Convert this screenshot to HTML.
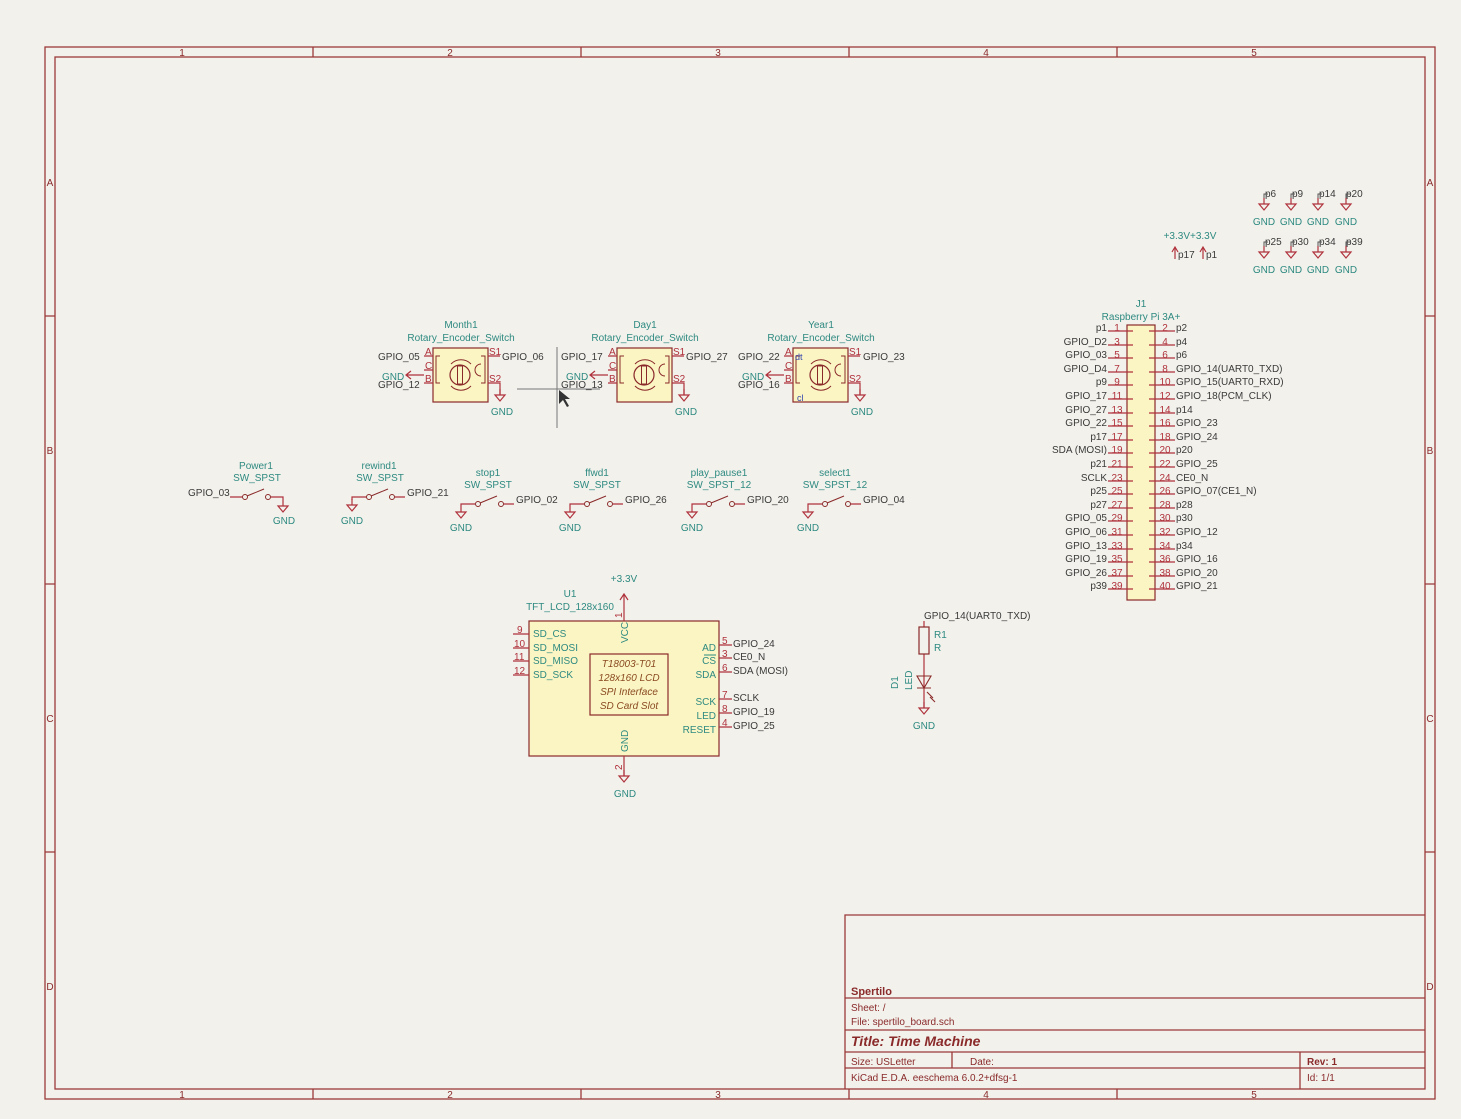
<!DOCTYPE html>
<html><head><meta charset="utf-8"><style>
html,body{margin:0;padding:0;background:#f2f1ec;}
svg{display:block;}
text{font-family:"Liberation Sans",sans-serif;font-size:10px;}
.k{fill:#3a3a3a}.t{fill:#2e8a80}.r{fill:#b0323c}.f{fill:#8a2a2a}
.w{stroke:#b0323c;stroke-width:1.2;fill:none}
.b{stroke:#8a2a2a;stroke-width:1.2;fill:#fbf5c4}
.fr{stroke:#9b3a3a;stroke-width:1.3;fill:none}
</style></head><body>
<svg width="1461" height="1119" viewBox="0 0 1461 1119" xmlns="http://www.w3.org/2000/svg">
<defs>
<g id="gnd"><path d="M0,0 V6 M-5,6 H5 L0,12 Z" class="w" style="stroke:#b0323c"/></g>
<g id="enc">
<rect x="0" y="0" width="55" height="54" class="b"/>
<path d="M-9,8 H0 M-9,22 H0 M-9,35 H0 M55,8 H67 M55,35 H67 V47" class="w"/>
<path d="M7,8 H3 V35 H7 M48,8 H52 V35 H48 M48,16 a4,4 0 0 0 0,12" stroke="#8a2a2a" fill="none"/>
<circle cx="27" cy="27" r="10" stroke="#8a2a2a" fill="none" stroke-width="1.2"/>
<rect x="24.5" y="18" width="5" height="18" stroke="#8a2a2a" fill="none"/>
<path d="M18,16 a14,14 0 0 1 20,0 M18,38 a14,14 0 0 0 20,0" stroke="#8a2a2a" fill="none"/>
</g>
<g id="sw">
<circle cx="0" cy="0" r="2.5" stroke="#8a2a2a" fill="none"/>
<circle cx="23" cy="0" r="2.5" stroke="#8a2a2a" fill="none"/>
<path d="M2,-1 L19,-8" stroke="#8a2a2a" fill="none"/>
</g>
</defs>

<!-- frame -->
<rect x="45" y="47" width="1390" height="1052" class="fr"/>
<rect x="55" y="57" width="1370" height="1032" class="fr"/>
<path d="M313,47V57 M581,47V57 M849,47V57 M1117,47V57 M313,1089V1099 M581,1089V1099 M849,1089V1099 M1117,1089V1099 M45,316H55 M45,584H55 M45,852H55 M1425,316H1435 M1425,584H1435 M1425,852H1435" class="fr"/>
<g class="f" text-anchor="middle">
<text x="182" y="56">1</text><text x="450" y="56">2</text><text x="718" y="56">3</text><text x="986" y="56">4</text><text x="1254" y="56">5</text>
<text x="182" y="1098">1</text><text x="450" y="1098">2</text><text x="718" y="1098">3</text><text x="986" y="1098">4</text><text x="1254" y="1098">5</text>
<text x="50" y="186">A</text><text x="50" y="454">B</text><text x="50" y="722">C</text><text x="50" y="990">D</text>
<text x="1430" y="186">A</text><text x="1430" y="454">B</text><text x="1430" y="722">C</text><text x="1430" y="990">D</text>
</g>

<!-- title block -->
<path d="M845,1089V915H1425 M845,998H1425 M845,1030H1425 M845,1052H1425 M845,1068H1425 M952,1052V1068 M1300,1052V1089" class="fr"/>
<text x="851" y="995" class="f" style="font-weight:bold;font-size:11px">Spertilo</text>
<text x="851" y="1011" class="f">Sheet: /</text>
<text x="851" y="1025" class="f">File: spertilo_board.sch</text>
<text x="851" y="1046" class="f" style="font-weight:bold;font-style:italic;font-size:14px">Title: Time Machine</text>
<text x="851" y="1065" class="f">Size: USLetter</text>
<text x="970" y="1065" class="f">Date:</text>
<text x="1307" y="1065" class="f" style="font-weight:bold">Rev: 1</text>
<text x="851" y="1081" class="f">KiCad E.D.A.  eeschema 6.0.2+dfsg-1</text>
<text x="1307" y="1081" class="f">Id: 1/1</text>

<!-- power flags top right -->
<g>
<use href="#gnd" x="1264" y="198"/><use href="#gnd" x="1291" y="198"/><use href="#gnd" x="1318" y="198"/><use href="#gnd" x="1346" y="198"/>
<use href="#gnd" x="1264" y="246"/><use href="#gnd" x="1291" y="246"/><use href="#gnd" x="1318" y="246"/><use href="#gnd" x="1346" y="246"/>
<path d="M1264,198V194H1268 M1291,198V194H1295 M1318,198V194H1322 M1346,198V194H1350 M1264,246V242H1268 M1291,246V242H1295 M1318,246V242H1322 M1346,246V242H1350" stroke="#555" fill="none"/>
<g class="k"><text x="1265" y="197">p6</text><text x="1292" y="197">p9</text><text x="1319" y="197">p14</text><text x="1346" y="197">p20</text>
<text x="1265" y="245">p25</text><text x="1292" y="245">p30</text><text x="1319" y="245">p34</text><text x="1346" y="245">p39</text></g>
<g class="t" text-anchor="middle"><text x="1264" y="225">GND</text><text x="1291" y="225">GND</text><text x="1318" y="225">GND</text><text x="1346" y="225">GND</text>
<text x="1264" y="273">GND</text><text x="1291" y="273">GND</text><text x="1318" y="273">GND</text><text x="1346" y="273">GND</text>
<text x="1190" y="239">+3.3V+3.3V</text></g>
<path d="M1175,259V247 M1172,252L1175,247L1178,252 M1203,259V247 M1200,252L1203,247L1206,252" class="w"/>
<text x="1178" y="258" class="k">p17</text><text x="1206" y="258" class="k">p1</text>
</g>

<!-- J1 -->
<text x="1141" y="307" class="t" text-anchor="middle">J1</text>
<text x="1141" y="320" class="t" text-anchor="middle">Raspberry Pi 3A+</text>
<rect x="1127" y="325" width="28" height="275" class="b"/>
<g class="w">
<path d="M1108,331H1133 M1108,345H1133 M1108,358H1133 M1108,372H1133 M1108,385H1133 M1108,399H1133 M1108,413H1133 M1108,426H1133 M1108,440H1133 M1108,453H1133 M1108,467H1133 M1108,481H1133 M1108,494H1133 M1108,508H1133 M1108,521H1133 M1108,535H1133 M1108,549H1133 M1108,562H1133 M1108,576H1133 M1108,589H1133"/>
<path d="M1149,331H1175 M1149,345H1175 M1149,358H1175 M1149,372H1175 M1149,385H1175 M1149,399H1175 M1149,413H1175 M1149,426H1175 M1149,440H1175 M1149,453H1175 M1149,467H1175 M1149,481H1175 M1149,494H1175 M1149,508H1175 M1149,521H1175 M1149,535H1175 M1149,549H1175 M1149,562H1175 M1149,576H1175 M1149,589H1175"/>
</g>
<g transform="translate(0,-3)">
<g class="r" text-anchor="middle">
<text x="1117" y="334">1</text><text x="1117" y="348">3</text><text x="1117" y="361">5</text><text x="1117" y="375">7</text><text x="1117" y="388">9</text><text x="1117" y="402">11</text><text x="1117" y="416">13</text><text x="1117" y="429">15</text><text x="1117" y="443">17</text><text x="1117" y="456">19</text><text x="1117" y="470">21</text><text x="1117" y="484">23</text><text x="1117" y="497">25</text><text x="1117" y="511">27</text><text x="1117" y="524">29</text><text x="1117" y="538">31</text><text x="1117" y="552">33</text><text x="1117" y="565">35</text><text x="1117" y="579">37</text><text x="1117" y="592">39</text>
<text x="1165" y="334">2</text><text x="1165" y="348">4</text><text x="1165" y="361">6</text><text x="1165" y="375">8</text><text x="1165" y="388">10</text><text x="1165" y="402">12</text><text x="1165" y="416">14</text><text x="1165" y="429">16</text><text x="1165" y="443">18</text><text x="1165" y="456">20</text><text x="1165" y="470">22</text><text x="1165" y="484">24</text><text x="1165" y="497">26</text><text x="1165" y="511">28</text><text x="1165" y="524">30</text><text x="1165" y="538">32</text><text x="1165" y="552">34</text><text x="1165" y="565">36</text><text x="1165" y="579">38</text><text x="1165" y="592">40</text>
</g>
<g class="k" text-anchor="end">
<text x="1107" y="334">p1</text><text x="1107" y="348">GPIO_D2</text><text x="1107" y="361">GPIO_03</text><text x="1107" y="375">GPIO_D4</text><text x="1107" y="388">p9</text><text x="1107" y="402">GPIO_17</text><text x="1107" y="416">GPIO_27</text><text x="1107" y="429">GPIO_22</text><text x="1107" y="443">p17</text><text x="1107" y="456">SDA (MOSI)</text><text x="1107" y="470">p21</text><text x="1107" y="484">SCLK</text><text x="1107" y="497">p25</text><text x="1107" y="511">p27</text><text x="1107" y="524">GPIO_05</text><text x="1107" y="538">GPIO_06</text><text x="1107" y="552">GPIO_13</text><text x="1107" y="565">GPIO_19</text><text x="1107" y="579">GPIO_26</text><text x="1107" y="592">p39</text>
</g>
<g class="k">
<text x="1176" y="334">p2</text><text x="1176" y="348">p4</text><text x="1176" y="361">p6</text><text x="1176" y="375">GPIO_14(UART0_TXD)</text><text x="1176" y="388">GPIO_15(UART0_RXD)</text><text x="1176" y="402">GPIO_18(PCM_CLK)</text><text x="1176" y="416">p14</text><text x="1176" y="429">GPIO_23</text><text x="1176" y="443">GPIO_24</text><text x="1176" y="456">p20</text><text x="1176" y="470">GPIO_25</text><text x="1176" y="484">CE0_N</text><text x="1176" y="497">GPIO_07(CE1_N)</text><text x="1176" y="511">p28</text><text x="1176" y="524">p30</text><text x="1176" y="538">GPIO_12</text><text x="1176" y="552">p34</text><text x="1176" y="565">GPIO_16</text><text x="1176" y="579">GPIO_20</text><text x="1176" y="592">GPIO_21</text>
</g>
</g>

<!-- Encoders -->
<g>
<use href="#enc" x="433" y="348"/><use href="#enc" x="617" y="348"/><use href="#enc" x="793" y="348"/>
<use href="#gnd" x="500" y="389"/><use href="#gnd" x="684" y="389"/><use href="#gnd" x="860" y="389"/>
<path d="M406,375H424 M411,371L406,375L411,379 M590,375H608 M595,371L590,375L595,379 M766,375H784 M771,371L766,375L771,379" class="w"/>
<g class="t" text-anchor="middle">
<text x="461" y="328">Month1</text><text x="461" y="341">Rotary_Encoder_Switch</text>
<text x="645" y="328">Day1</text><text x="645" y="341">Rotary_Encoder_Switch</text>
<text x="821" y="328">Year1</text><text x="821" y="341">Rotary_Encoder_Switch</text>
<text x="502" y="415">GND</text><text x="686" y="415">GND</text><text x="862" y="415">GND</text>
</g>
<g class="r" style="font-size:9px">
<text x="425" y="355">A</text><text x="425" y="369">C</text><text x="425" y="382">B</text><text x="489" y="355">S1</text><text x="489" y="382">S2</text>
<text x="609" y="355">A</text><text x="609" y="369">C</text><text x="609" y="382">B</text><text x="673" y="355">S1</text><text x="673" y="382">S2</text>
<text x="785" y="355">A</text><text x="785" y="369">C</text><text x="785" y="382">B</text><text x="849" y="355">S1</text><text x="849" y="382">S2</text>
</g>
<text x="795" y="360" style="font-size:9px;fill:#3344aa">dt</text><text x="797" y="401" style="font-size:9px;fill:#3344aa">cl</text>
<g class="k">
<text x="378" y="360">GPIO_05</text><text x="378" y="388">GPIO_12</text><text x="502" y="360">GPIO_06</text>
<text x="561" y="360">GPIO_17</text><text x="561" y="388">GPIO_13</text><text x="686" y="360">GPIO_27</text>
<text x="738" y="360">GPIO_22</text><text x="738" y="388">GPIO_16</text><text x="863" y="360">GPIO_23</text>
</g>
<g class="t"><text x="382" y="380">GND</text><text x="566" y="380">GND</text><text x="742" y="380">GND</text></g>
<path d="M517,389H600 M557,347V428" stroke="#777" stroke-width="1" fill="none"/>
<path d="M559,390V404L563,400L567,407L569,406L565,399L570,399Z" fill="#333"/>
</g>

<!-- Switches -->
<g>
<g class="t" text-anchor="middle">
<text x="256" y="469">Power1</text><text x="257" y="481">SW_SPST</text>
<text x="379" y="469">rewind1</text><text x="380" y="481">SW_SPST</text>
<text x="488" y="476">stop1</text><text x="488" y="488">SW_SPST</text>
<text x="597" y="476">ffwd1</text><text x="597" y="488">SW_SPST</text>
<text x="719" y="476">play_pause1</text><text x="719" y="488">SW_SPST_12</text>
<text x="835" y="476">select1</text><text x="835" y="488">SW_SPST_12</text>
<text x="284" y="524">GND</text><text x="352" y="524">GND</text><text x="461" y="531">GND</text><text x="570" y="531">GND</text><text x="692" y="531">GND</text><text x="808" y="531">GND</text>
</g>
<use href="#sw" x="245" y="497"/><use href="#sw" x="369" y="497"/><use href="#sw" x="478" y="504"/><use href="#sw" x="587" y="504"/><use href="#sw" x="709" y="504"/><use href="#sw" x="825" y="504"/>
<path d="M230,497H242 M271,497H283 V500" class="w"/><use href="#gnd" x="283" y="500"/>
<path d="M352,500V497H366 M395,497H405" class="w"/><use href="#gnd" x="352" y="499"/>
<path d="M461,506V504H475 M504,504H514" class="w"/><use href="#gnd" x="461" y="506"/>
<path d="M570,506V504H584 M613,504H623" class="w"/><use href="#gnd" x="570" y="506"/>
<path d="M692,506V504H706 M735,504H745" class="w"/><use href="#gnd" x="692" y="506"/>
<path d="M808,506V504H822 M851,504H861" class="w"/><use href="#gnd" x="808" y="506"/>
<g class="k">
<text x="188" y="496">GPIO_03</text><text x="407" y="496">GPIO_21</text><text x="516" y="503">GPIO_02</text><text x="625" y="503">GPIO_26</text><text x="747" y="503">GPIO_20</text><text x="863" y="503">GPIO_04</text>
</g>
</g>

<!-- LCD -->
<g>
<rect x="529" y="621" width="190" height="135" class="b"/>
<rect x="590" y="654" width="78" height="61" stroke="#8a2a2a" fill="none" stroke-width="1.2"/>
<g style="fill:#8a4a20;font-style:italic;font-size:9.5px" text-anchor="middle">
<text x="629" y="667">T18003-T01</text><text x="629" y="681">128x160 LCD</text><text x="629" y="695">SPI Interface</text><text x="629" y="709">SD Card Slot</text>
</g>
<path d="M624,621V594 M620,600L624,594L628,600 M624,756V776 M513,634H529 M513,648H529 M513,661H529 M513,675H529 M719,645H732 M719,658H732 M719,672H732 M719,699H732 M719,713H732 M719,727H732" class="w"/>
<use href="#gnd" x="624" y="770"/>
<g class="t">
<text x="624" y="582" text-anchor="middle">+3.3V</text>
<text x="570" y="597" text-anchor="middle">U1</text>
<text x="570" y="610" text-anchor="middle">TFT_LCD_128x160</text>
<text x="625" y="797" text-anchor="middle">GND</text>
<text x="533" y="637">SD_CS</text><text x="533" y="651">SD_MOSI</text><text x="533" y="664">SD_MISO</text><text x="533" y="678">SD_SCK</text>
<g text-anchor="end"><text x="716" y="651">AD</text><text x="716" y="664">CS</text><text x="716" y="678">SDA</text><text x="716" y="705">SCK</text><text x="716" y="719">LED</text><text x="716" y="733">RESET</text></g>
<text transform="translate(628,643) rotate(-90)" text-anchor="start">VCC</text>
<text transform="translate(628,752) rotate(-90)">GND</text>
</g>
<path d="M704,655H716" stroke="#2e8a80"/>
<g class="r">
<text x="517" y="633">9</text><text x="514" y="647">10</text><text x="514" y="660">11</text><text x="514" y="674">12</text>
<text x="722" y="644">5</text><text x="722" y="657">3</text><text x="722" y="671">6</text><text x="722" y="698">7</text><text x="722" y="712">8</text><text x="722" y="726">4</text>
<text transform="translate(622,618) rotate(-90)">1</text><text transform="translate(622,770) rotate(-90)">2</text>
</g>
<g class="k">
<text x="733" y="647">GPIO_24</text><text x="733" y="660">CE0_N</text><text x="733" y="674">SDA (MOSI)</text><text x="733" y="701">SCLK</text><text x="733" y="715">GPIO_19</text><text x="733" y="729">GPIO_25</text>
</g>
</g>

<!-- LED / R -->
<g>
<text x="924" y="619" class="k">GPIO_14(UART0_TXD)</text>
<path d="M924,621V627 M924,654V708" class="w"/>
<rect x="919" y="627" width="10" height="27" stroke="#8a2a2a" fill="none" stroke-width="1.2"/>
<path d="M917,676H931 L924,688Z M917,688H931 M927,692L933,698 M930,697L935,702" stroke="#8a2a2a" fill="none" stroke-width="1.1"/>
<use href="#gnd" x="924" y="702"/>
<g class="t"><text x="934" y="638">R1</text><text x="934" y="651">R</text><text x="924" y="729" text-anchor="middle">GND</text>
<text transform="translate(898,689) rotate(-90)">D1</text><text transform="translate(912,690) rotate(-90)">LED</text></g>
</g>
</svg>
</body></html>
